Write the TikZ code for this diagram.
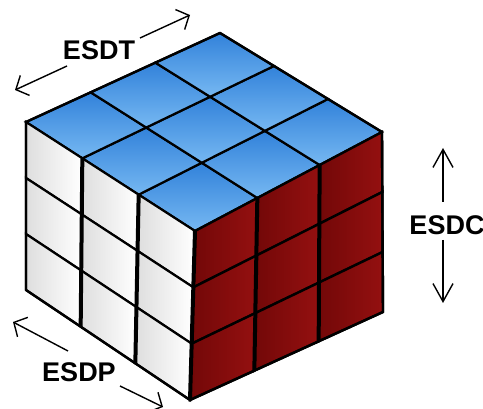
\documentclass[tikz,border=0pt]{standalone}
\usepackage{fontspec}
\setmainfont{Liberation Sans}
\usetikzlibrary{calc,arrows.meta}
\definecolor{bluedark}{RGB}{50,130,218}
\definecolor{bluelight}{RGB}{118,184,242}
\definecolor{reddark}{RGB}{115,8,8}
\definecolor{redmid}{RGB}{148,16,16}
\definecolor{whitegrey}{RGB}{222,222,222}
\newcommand\cubept[6]{($($(#1)!#5!(#2)$)!#6!($(#4)!#5!(#3)$)$)}
\newcommand\cubecell[8]{%
  \cubept{#1}{#2}{#3}{#4}{#5}{#7} --
  \cubept{#1}{#2}{#3}{#4}{#6}{#7} --
  \cubept{#1}{#2}{#3}{#4}{#6}{#8} --
  \cubept{#1}{#2}{#3}{#4}{#5}{#8} -- cycle}
\begin{document}
\begin{tikzpicture}[x=1pt,y=-1pt,
  topcell/.style={top color=bluedark,bottom color=bluelight,draw=black,line width=2.2},
  leftcell/.style={left color=whitegrey,right color=white,draw=black,line width=2.2},
  rightcell/.style={left color=reddark,right color=redmid,draw=black,line width=2.4},
  seam/.style={draw=black,line width=4},
  lbl/.style={font=\bfseries\fontsize{27}{27}\selectfont,inner sep=0pt},
  arr/.style={line width=1.4,-{Straight Barb[length=10,width=22]}},
  arrv/.style={line width=1.4,-{Straight Barb[length=18,width=20]}}]
\useasboundingbox (0,0) rectangle (483,409);
\fill[white] (0,0) rectangle (483,409);
% cube corners
\coordinate (F) at (195,231);
\coordinate (L) at (26,122);
\coordinate (B) at (220,33);
\coordinate (R) at (382,132);
\coordinate (Lb) at (26,290);
\coordinate (Rb) at (383,312);
\coordinate (Fb) at (190,400);
% top face
\foreach \i [evaluate=\i as \ua using \i/3, evaluate=\i as \ub using (\i+1)/3] in {0,1,2}{
 \foreach \j [evaluate=\j as \va using \j/3, evaluate=\j as \vb using (\j+1)/3] in {0,1,2}{
  \shadedraw[topcell] \cubecell{F}{L}{B}{R}{\ua}{\ub}{\va}{\vb};
}}
% left face
\foreach \i [evaluate=\i as \ua using \i/3, evaluate=\i as \ub using (\i+1)/3] in {0,1,2}{
 \foreach \j [evaluate=\j as \va using \j/3, evaluate=\j as \vb using (\j+1)/3] in {0,1,2}{
  \shadedraw[leftcell] \cubecell{F}{L}{Lb}{Fb}{\ua}{\ub}{\va}{\vb};
}}
% right face
\foreach \i [evaluate=\i as \ua using \i/3, evaluate=\i as \ub using (\i+1)/3] in {0,1,2}{
 \foreach \j [evaluate=\j as \va using \j/3, evaluate=\j as \vb using (\j+1)/3] in {0,1,2}{
  \shadedraw[rightcell] \cubecell{F}{R}{Rb}{Fb}{\ua}{\ub}{\va}{\vb};
}}
% thicker vertical seams
\foreach \u [evaluate=\u as \uu using \u/3] in {1,2}{
  \draw[seam] \cubept{F}{L}{Lb}{Fb}{\uu}{0} -- \cubept{F}{L}{Lb}{Fb}{\uu}{1};
  \draw[seam] \cubept{F}{R}{Rb}{Fb}{\uu}{0} -- \cubept{F}{R}{Rb}{Fb}{\uu}{1};
}
\draw[seam] (F) -- (Fb);
\draw[black,line width=2.4,line join=round] (L) -- (B) -- (R) -- (Rb) -- (Fb) -- (Lb) -- cycle;
% labels
\node[lbl] (esdt) at (99,50) {ESDT};
\node[lbl] (esdc) at (447,225) {ESDC};
\node[lbl] (esdp) at (79,372) {ESDP};
% arrow ends
\coordinate (t1s) at (140,38);
\coordinate (t1e) at (190,15);
\coordinate (t2s) at (67,66);
\coordinate (t2e) at (15,90);
\coordinate (c1s) at (443,202);
\coordinate (c1e) at (443,148);
\coordinate (c2s) at (443,240);
\coordinate (c2e) at (443,303);
\coordinate (p1s) at (68,351);
\coordinate (p1e) at (13,322);
\coordinate (p2s) at (120,386);
\coordinate (p2e) at (163,407);
\draw[arr] (t1s) -- (t1e);
\draw[arr] (t2s) -- (t2e);
\draw[arrv] (c1s) -- (c1e);
\draw[arrv] (c2s) -- (c2e);
\draw[arr] (p1s) -- (p1e);
\draw[arr] (p2s) -- (p2e);
\end{tikzpicture}
\end{document}
